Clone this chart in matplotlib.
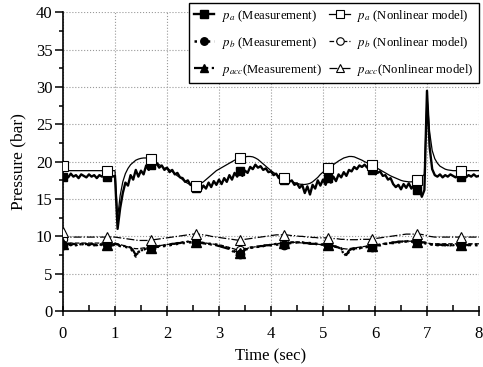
import numpy as np
import matplotlib.pyplot as plt
from matplotlib.ticker import MultipleLocator

plt.rcParams['font.family'] = 'Liberation Serif'
plt.rcParams['mathtext.fontset'] = 'stix'

DT = 0.05

# p_a measurement, one row per second (20 samples each) + last sample at 8 s
pa_meas = [
    18.0, 18.3, 17.9, 18.4, 18.0, 18.2, 17.8, 18.3, 18.1, 17.9, 18.3, 18.0, 18.2, 17.8, 18.2, 18.0, 18.3, 17.9, 18.2, 18.0,
    18.1, 11.0, 13.8, 15.8, 17.2, 16.8, 18.2, 17.6, 18.9, 18.0, 18.8, 18.3, 19.5, 18.9, 19.6, 19.3, 19.8, 19.2, 19.5, 18.9,
    19.2, 18.6, 18.9, 18.3, 18.5, 17.9, 17.8, 17.3, 17.5, 16.9, 16.8, 16.5, 16.9, 16.2, 16.8, 16.4, 17.2, 16.6, 17.4, 16.9,
    17.6, 17.0, 17.8, 17.3, 18.2, 17.6, 18.5, 18.0, 18.7, 18.1, 18.8, 18.5, 19.3, 19.0, 19.6, 19.2, 19.4, 18.9, 19.1, 18.6,
    18.7, 18.2, 18.4, 17.8, 18.1, 17.6, 17.8, 17.3, 17.5, 16.9, 17.1, 16.5, 16.9, 15.8, 16.7, 15.6, 16.9, 16.4, 17.5, 16.8,
    17.6, 16.9, 17.8, 17.2, 18.0, 17.4, 18.3, 17.9, 18.6, 18.1, 18.9, 18.7, 19.3, 19.0, 19.5, 19.3, 19.6, 19.2, 19.4, 18.9,
    19.0, 18.5, 18.7, 18.1, 18.2, 17.6, 17.8, 17.0, 16.6, 16.9, 16.3, 17.0, 16.5, 17.1, 16.4, 16.9, 16.2, 16.6, 15.3, 16.2,
    29.5, 22.0, 19.0, 18.2, 18.0, 18.3, 17.9, 18.2, 18.0, 18.3, 18.1, 17.9, 18.2, 18.0, 18.3, 17.9, 18.2, 18.0, 18.3, 18.0,
    18.1,
]
pb_meas = [
    8.9, 9.0, 8.8, 9.0, 8.9, 8.8, 9.0, 8.9, 9.0, 8.8, 8.9, 9.0, 8.8, 8.9, 9.0, 8.8, 8.9, 9.0, 8.9, 8.8,
    8.9, 8.8, 8.7, 8.6, 8.6, 8.5, 8.4, 7.9, 7.3, 7.9, 8.1, 8.2, 8.4, 8.4, 8.5, 8.5, 8.6, 8.6, 8.7, 8.7,
    8.8, 8.8, 8.9, 8.9, 9.0, 9.0, 9.1, 9.1, 9.2, 9.2, 9.2, 9.3, 9.2, 9.2, 9.1, 9.1, 9.0, 9.0, 8.9, 8.9,
    8.8, 8.7, 8.6, 8.5, 8.4, 8.2, 8.0, 7.6, 7.7, 8.1, 8.3, 8.4, 8.5, 8.5, 8.6, 8.6, 8.7, 8.7, 8.8, 8.8,
    8.8, 8.9, 8.9, 8.9, 9.0, 8.9, 9.0, 9.1, 9.1, 9.1, 9.2, 9.2, 9.2, 9.1, 9.1, 9.1, 9.0, 9.0, 9.0, 8.9,
    8.9, 8.9, 8.8, 8.8, 8.7, 8.6, 8.5, 8.4, 7.9, 7.3, 8.0, 8.2, 8.3, 8.4, 8.4, 8.5, 8.5, 8.6, 8.6, 8.6,
    8.7, 8.8, 8.8, 8.9, 9.0, 9.0, 9.1, 9.1, 9.2, 9.2, 9.2, 9.3, 9.3, 9.3, 9.3, 9.3, 9.3, 9.2, 9.2, 9.1,
    9.0, 8.9, 8.9, 8.8, 8.9, 8.8, 8.9, 8.8, 8.9, 8.8, 8.9, 8.8, 8.9, 8.8, 8.9, 8.8, 8.9, 8.8, 8.9, 8.8,
    8.9,
]
pacc_meas = [
    9.0, 8.9, 9.0, 8.8, 9.0, 8.9, 8.8, 9.0, 8.9, 9.0, 8.8, 9.0, 8.9, 8.8, 9.0, 8.9, 9.0, 8.8, 9.0, 8.9,
    9.0, 8.9, 8.8, 8.7, 8.7, 8.6, 8.5, 8.1, 7.5, 7.8, 8.1, 8.2, 8.3, 8.4, 8.5, 8.6, 8.6, 8.7, 8.8, 8.8,
    8.9, 8.9, 9.0, 9.0, 9.1, 9.1, 9.2, 9.2, 9.3, 9.2, 9.3, 9.2, 9.2, 9.1, 9.1, 9.0, 9.0, 8.9, 8.9, 8.8,
    8.7, 8.6, 8.5, 8.4, 8.3, 8.1, 7.8, 7.4, 7.8, 8.0, 8.2, 8.3, 8.4, 8.5, 8.6, 8.6, 8.7, 8.7, 8.8, 8.8,
    8.9, 8.9, 9.0, 9.0, 9.0, 9.1, 9.1, 9.1, 9.2, 9.2, 9.2, 9.2, 9.1, 9.1, 9.1, 9.0, 9.0, 9.0, 8.9, 8.9,
    8.9, 8.8, 8.8, 8.7, 8.7, 8.6, 8.5, 8.3, 7.6, 7.5, 8.1, 8.3, 8.4, 8.4, 8.5, 8.5, 8.6, 8.6, 8.7, 8.7,
    8.8, 8.8, 8.9, 9.0, 9.0, 9.1, 9.1, 9.2, 9.2, 9.3, 9.3, 9.3, 9.4, 9.3, 9.4, 9.3, 9.3, 9.3, 9.2, 9.2,
    9.1, 9.0, 8.9, 8.9, 8.8, 8.9, 8.8, 8.9, 8.8, 8.9, 8.8, 8.9, 8.8, 8.9, 8.8, 8.9, 8.8, 8.9, 8.8, 8.9,
    8.9,
]

# nonlinear model
pa_model = [
    19.4, 18.8, 18.8, 18.8, 18.8, 18.8, 18.8, 18.8, 18.8, 18.8, 18.8, 18.8, 18.8, 18.8, 18.8, 18.8, 18.8, 18.8, 18.8, 18.8,
    18.8, 12.5, 15.5, 17.3, 18.4, 19.1, 19.6, 19.9, 20.2, 20.35, 20.45, 20.5, 20.5, 20.45, 20.3, 20.1, 19.9, 19.6, 19.4, 19.1,
    19.2, 18.9, 18.7, 18.4, 18.1, 17.9, 17.6, 17.3, 17.1, 16.9, 16.8, 16.8, 16.9, 17.1, 17.3, 17.6, 17.9, 18.2, 18.5, 18.8,
    19.0, 19.2, 19.4, 19.6, 19.8, 20.0, 20.2, 20.35, 20.5, 20.6, 20.65, 20.7, 20.7, 20.65, 20.5, 20.3, 20.0, 19.7, 19.4, 19.1,
    18.8, 18.55, 18.3, 18.1, 17.95, 17.8, 17.65, 17.5, 17.35, 17.2, 17.1, 17.0, 16.95, 16.95, 17.0, 17.1, 17.3, 17.6, 17.9, 18.3,
    18.6, 18.85, 19.1, 19.35, 19.6, 19.85, 20.1, 20.3, 20.5, 20.6, 20.7, 20.7, 20.65, 20.5, 20.35, 20.2, 20.0, 19.85, 19.7, 19.5,
    19.3, 19.1, 18.9, 18.7, 18.5, 18.3, 18.1, 17.95, 17.8, 17.65, 17.5, 17.4, 17.35, 17.3, 17.3, 17.4, 17.6, 17.8, 18.0, 18.3,
    28.8, 24.0, 21.5, 20.4, 19.8, 19.4, 19.2, 19.0, 18.9, 18.85, 18.8, 18.8, 18.8, 18.8, 18.8, 18.8, 18.8, 18.8, 18.8, 18.8,
    18.8,
]
pb_model = [
    9.6, 9.2, 9.1, 9.1, 9.1, 9.1, 9.1, 9.1, 9.1, 9.1, 9.1, 9.1, 9.1, 9.1, 9.1, 9.1, 9.1, 9.1, 9.1, 9.1,
    9.1, 9.0, 8.9, 8.8, 8.7, 8.6, 8.5, 8.4, 8.35, 8.35, 8.4, 8.45, 8.5, 8.55, 8.6, 8.65, 8.7, 8.75, 8.8, 8.85,
    8.9, 8.95, 9.0, 9.05, 9.1, 9.15, 9.2, 9.25, 9.3, 9.3, 9.3, 9.3, 9.25, 9.2, 9.15, 9.1, 9.05, 9.0, 8.95, 8.9,
    8.85, 8.8, 8.7, 8.6, 8.5, 8.4, 8.3, 8.2, 8.2, 8.25, 8.3, 8.4, 8.5, 8.55, 8.6, 8.65, 8.7, 8.75, 8.8, 8.85,
    8.9, 8.95, 9.0, 9.05, 9.1, 9.15, 9.2, 9.2, 9.2, 9.2, 9.2, 9.15, 9.1, 9.1, 9.05, 9.0, 9.0, 8.95, 8.95, 8.9,
    8.9, 8.85, 8.8, 8.75, 8.7, 8.6, 8.5, 8.4, 8.35, 8.3, 8.35, 8.4, 8.45, 8.5, 8.55, 8.6, 8.65, 8.7, 8.75, 8.8,
    8.85, 8.9, 8.95, 9.0, 9.05, 9.1, 9.15, 9.2, 9.25, 9.3, 9.3, 9.35, 9.35, 9.35, 9.35, 9.3, 9.3, 9.25, 9.2, 9.15,
    9.1, 9.05, 9.0, 9.0, 9.0, 9.0, 9.0, 9.0, 9.0, 9.0, 9.0, 9.0, 9.0, 9.0, 9.0, 9.0, 9.0, 9.0, 9.0, 9.0,
    9.0,
]
pacc_model = [
    10.6, 10.0, 9.9, 9.9, 9.9, 9.9, 9.9, 9.9, 9.9, 9.9, 9.9, 9.9, 9.9, 9.9, 9.9, 9.9, 9.9, 9.9, 9.9, 9.9,
    9.9, 9.85, 9.8, 9.75, 9.7, 9.65, 9.6, 9.55, 9.5, 9.45, 9.45, 9.45, 9.45, 9.45, 9.5, 9.55, 9.6, 9.65, 9.7, 9.75,
    9.8, 9.85, 9.9, 9.95, 10.0, 10.05, 10.1, 10.15, 10.2, 10.25, 10.3, 10.3, 10.3, 10.25, 10.2, 10.15, 10.1, 10.0, 9.95, 9.9,
    9.85, 9.8, 9.75, 9.7, 9.65, 9.6, 9.55, 9.5, 9.5, 9.55, 9.6, 9.65, 9.7, 9.75, 9.8, 9.85, 9.9, 9.95, 10.0, 10.05,
    10.1, 10.15, 10.2, 10.2, 10.2, 10.2, 10.2, 10.15, 10.1, 10.1, 10.05, 10.0, 10.0, 9.95, 9.9, 9.9, 9.85, 9.85, 9.8, 9.8,
    9.8, 9.8, 9.8, 9.75, 9.7, 9.7, 9.65, 9.6, 9.6, 9.55, 9.55, 9.55, 9.55, 9.55, 9.6, 9.6, 9.6, 9.6, 9.6, 9.65,
    9.7, 9.75, 9.8, 9.85, 9.9, 9.95, 10.0, 10.05, 10.1, 10.15, 10.2, 10.25, 10.3, 10.3, 10.3, 10.3, 10.3, 10.3, 10.25, 10.2,
    10.1, 10.0, 9.95, 9.9, 9.9, 9.9, 9.9, 9.9, 9.9, 9.9, 9.9, 9.9, 9.9, 9.9, 9.9, 9.9, 9.9, 9.9, 9.9, 9.9,
    9.9,
]

MARK_EVERY = 17  # one marker every 0.85 s

fig = plt.figure(figsize=(4.83, 3.67), dpi=100)
ax = fig.add_axes([0.1304, 0.1526, 0.8613, 0.8136])

def tt(y):
    return np.arange(len(y)) * DT

h_pb_mod, = ax.plot(tt(pb_model), pb_model, color='k', ls='--', lw=0.9, marker='o', ms=6,
                    mfc='white', mec='k', mew=0.8, markevery=MARK_EVERY, zorder=2,
                    label=r'$p_b$ (Nonlinear model)')
h_pa, = ax.plot(tt(pa_meas), pa_meas, color='k', ls='-', lw=1.7, marker='s', ms=6,
                markevery=MARK_EVERY, zorder=3, label=r'$p_a$ (Measurement)')
h_pb, = ax.plot(tt(pb_meas), pb_meas, color='k', ls=':', lw=1.8, marker='o', ms=6,
                markevery=MARK_EVERY, zorder=3, label=r'$p_b$ (Measurement)')
h_pacc, = ax.plot(tt(pacc_meas), pacc_meas, color='k', ls='-.', lw=1.6, marker='^', ms=6.5,
                  markevery=MARK_EVERY, zorder=3, label=r'$p_{acc}$(Measurement)')
h_pa_mod, = ax.plot(tt(pa_model), pa_model, color='k', ls='-', lw=0.9, marker='s', ms=6.5,
                    mfc='white', mec='k', mew=0.8, markevery=MARK_EVERY, zorder=4,
                    label=r'$p_a$ (Nonlinear model)')
h_pacc_mod, = ax.plot(tt(pacc_model), pacc_model, color='k', ls='-.', lw=0.9, marker='^', ms=7,
                      mfc='white', mec='k', mew=0.8, markevery=MARK_EVERY, zorder=4,
                      label=r'$p_{acc}$(Nonlinear model)')

ax.set_xlim(0, 8)
ax.set_ylim(0, 40)
ax.xaxis.set_major_locator(MultipleLocator(1))
ax.xaxis.set_minor_locator(MultipleLocator(0.5))
ax.yaxis.set_major_locator(MultipleLocator(5))
ax.yaxis.set_minor_locator(MultipleLocator(2.5))

ax.spines['top'].set_visible(False)
ax.spines['right'].set_visible(False)
ax.spines['left'].set_linewidth(1.2)
ax.spines['bottom'].set_linewidth(1.2)

ax.tick_params(axis='x', which='major', direction='inout', length=7, width=1.1, pad=7, labelsize=12)
ax.tick_params(axis='x', which='minor', direction='in', length=4, width=1.1)
ax.tick_params(axis='y', which='major', direction='out', length=5.5, width=1.1, pad=2, labelsize=12)
ax.tick_params(axis='y', which='minor', direction='out', length=3, width=1.1)

ax.grid(True, which='major', color='#999999', linestyle=':', linewidth=0.8)
ax.get_xgridlines()[-1].set_visible(False)
ax.get_ygridlines()[-1].set_visible(False)

ax.set_xlabel('Time (sec)', fontsize=12, labelpad=5)
ax.set_ylabel('Pressure (bar)', fontsize=12.5, labelpad=7)

leg = ax.legend(handles=[h_pa, h_pb, h_pacc, h_pa_mod, h_pb_mod, h_pacc_mod],
                ncol=2, loc='upper right', bbox_to_anchor=(1.0, 1.032), borderaxespad=0,
                fontsize=9.2, frameon=True, fancybox=False, edgecolor='k', framealpha=1,
                handlelength=1.6, handletextpad=0.6, columnspacing=0.6, labelspacing=0.85,
                borderpad=0.4, markerscale=0.9)
leg.get_frame().set_linewidth(1.0)

fig.savefig('out.png', dpi=100)
